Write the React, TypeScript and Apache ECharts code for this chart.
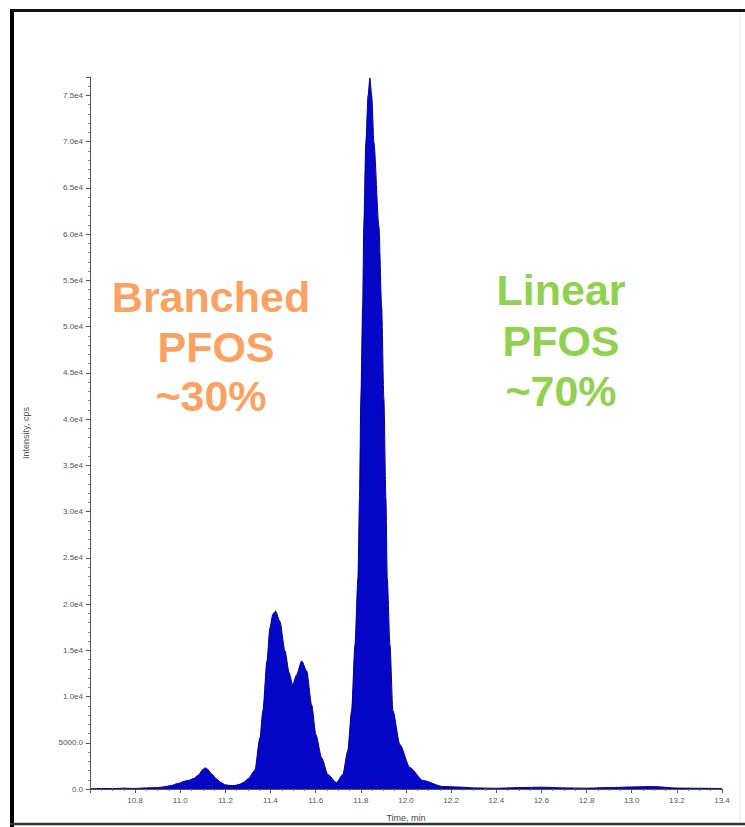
import React, { useEffect, useRef } from "react";
import * as echarts from "echarts";

// Retention time (min) and intensity (cps)
const times = [
  10.6, 10.65, 10.7, 10.75, 10.8, 10.85, 10.9, 10.93, 10.96, 10.99, 11.02, 11.04, 11.06, 11.08,
  11.1, 11.11, 11.12, 11.14, 11.16, 11.18, 11.2, 11.22, 11.24, 11.26, 11.28, 11.3, 11.33, 11.353,
  11.366, 11.384, 11.397, 11.41, 11.422, 11.441, 11.464, 11.482, 11.498, 11.515, 11.538, 11.56,
  11.582, 11.601, 11.626, 11.654, 11.692, 11.72, 11.742, 11.759, 11.774, 11.787, 11.794, 11.8,
  11.808, 11.813, 11.822, 11.832, 11.84, 11.848, 11.858, 11.88, 11.892, 11.902, 11.911, 11.917,
  11.929, 11.942, 11.973, 12.017, 12.075, 12.163, 12.25, 12.3, 12.4, 12.5, 12.6, 12.7, 12.8, 12.9,
  13.0, 13.1, 13.2, 13.3, 13.4,
];
const intensities = [
  30, 60, 40, 90, 60, 120, 150, 250, 380, 600, 850, 950, 1150, 1500,
  2100, 2300, 2150, 1600, 1100, 700, 450, 380, 380, 480, 700, 1100, 2000, 5550,
  8460, 13850, 17400, 18900, 19240, 18150, 14920, 12600, 11260, 12340, 13850, 12770,
  9100, 5870, 3390, 1560, 700, 1560, 4150, 8460, 15570, 22790, 31410, 42190,
  52210, 60830, 69880, 75000, 76900, 75000, 69880, 60830, 52210, 42190, 31410, 22790,
  15570, 8460, 4800, 2320, 920, 270, 200, 120, 80, 150, 200, 120, 90, 150,
  220, 260, 100, 80, 50,
];

const xMin = 10.6;
const xMax = 13.4;
const xStep = 0.2;
const yMax = 77000;
const yStep = 5000;

const xTitle = "Time, min";
const yTitle = "Intensity, cps";

const branchedLines = ["Branched", "PFOS", "~30%"];
const linearLines = ["Linear", "PFOS", "~70%"];

function yLabel(v: number): string {
  if (v === 0) return "0.0";
  if (v < 10000) return v.toFixed(1);
  return (v / 10000).toFixed(1) + "e4";
}

export default function App() {
  const ref = useRef<HTMLDivElement>(null);

  useEffect(() => {
    if (!ref.current) return;
    const chart = echarts.init(ref.current, null, { renderer: "svg" });
    const data = times.map((t, i) => [t, intensities[i]]);
    const bigFont = 'bold 43px "Liberation Sans", Arial, sans-serif';
    const orange = "#FBA263";
    const green = "#92D050";
    const mkText = (text: string, x: number, y: number, color: string) => ({
      type: "text",
      x,
      y,
      z: 100,
      style: {
        text,
        fill: color,
        font: bigFont,
        align: "center",
        textAlign: "center",
        verticalAlign: "middle",
        textVerticalAlign: "middle",
      },
    });
    chart.setOption({
      animation: false,
      backgroundColor: "#ffffff",
      grid: { left: 90, right: 23, top: 77, bottom: 35.5 },
      xAxis: {
        type: "value",
        min: xMin,
        max: xMax,
        interval: xStep,
        name: xTitle,
        nameLocation: "middle",
        nameGap: 24,
        nameTextStyle: { fontSize: 9, color: "#444", fontFamily: "Arial, sans-serif" },
        axisLine: { show: true, lineStyle: { color: "#555", width: 1 } },
        axisTick: { show: true, length: 4, lineStyle: { color: "#555" } },
        minorTick: { show: true, splitNumber: 4, length: 2, lineStyle: { color: "#777" } },
        axisLabel: {
          showMinLabel: false,
          fontSize: 8,
          color: "#555",
          margin: 7,
          fontFamily: "Arial, sans-serif",
          formatter: (v: number) => v.toFixed(1),
        },
        splitLine: { show: false },
      },
      yAxis: {
        type: "value",
        min: 0,
        max: yMax,
        interval: yStep,
        name: yTitle,
        nameLocation: "middle",
        nameGap: 60,
        nameTextStyle: { fontSize: 9, color: "#555", fontFamily: "Arial, sans-serif" },
        axisLine: { show: true, lineStyle: { color: "#555", width: 1 } },
        axisTick: { show: true, length: 4, lineStyle: { color: "#555" } },
        minorTick: { show: true, splitNumber: 5, length: 2, lineStyle: { color: "#888" } },
        axisLabel: {
          showMaxLabel: false,
          fontSize: 8,
          color: "#555",
          margin: 7,
          fontFamily: "Arial, sans-serif",
          formatter: yLabel,
        },
        splitLine: { show: false },
      },
      series: [
        {
          type: "line",
          data,
          showSymbol: false,
          symbol: "none",
          smooth: 0.25,
          smoothMonotone: "x",
          lineStyle: { color: "#00008f", width: 1 },
          areaStyle: { color: "#0606c6", opacity: 1 },
          z: 2,
        },
      ],
      graphic: [
        { type: "line", shape: { x1: 10, y1: 10.5, x2: 745, y2: 10.5 }, style: { stroke: "#111", lineWidth: 3 } },
        { type: "line", shape: { x1: 12, y1: 9, x2: 12, y2: 827 }, style: { stroke: "#000", lineWidth: 4 } },
        { type: "line", shape: { x1: 10, y1: 824, x2: 745, y2: 824 }, style: { stroke: "#333", lineWidth: 2.5 } },
        { type: "line", shape: { x1: 740, y1: 13, x2: 740, y2: 822 }, style: { stroke: "#e2e2e2", lineWidth: 1 } },
        mkText(branchedLines[0], 211, 297, orange),
        mkText(branchedLines[1], 216, 347, orange),
        mkText(branchedLines[2], 211, 396, orange),
        mkText(linearLines[0], 561, 290, green),
        mkText(linearLines[1], 561, 341, green),
        mkText(linearLines[2], 561, 391, green),
      ],
    });
    return () => chart.dispose();
  }, []);

  return (
    <div
      ref={ref}
      style={{ position: "absolute", left: 0, top: 0, width: 745, height: 827 }}
    />
  );
}
